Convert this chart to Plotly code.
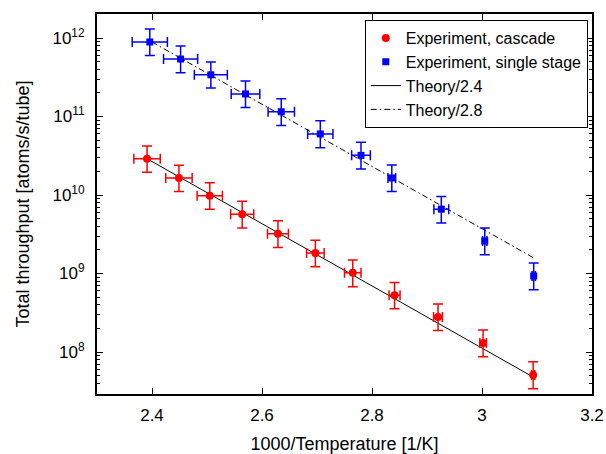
import plotly.graph_objects as go

# Experiment, cascade
cas_x = [2.391, 2.449, 2.505, 2.564, 2.629, 2.697, 2.765, 2.841, 2.920, 3.002, 3.093]
cas_y = [2.9e10, 1.65e10, 9.8e9, 5.7e9, 3.2e9, 1.82e9, 1.02e9, 5.3e8, 2.8e8, 1.3e8, 5.1e7]
cas_xerr = [0.024, 0.024, 0.023, 0.021, 0.019, 0.016, 0.015, 0.010, 0.008, 0.006, 0.003]
cas_yerr_plus = [1.3e10, 7.5e9, 4.5e9, 2.6e9, 1.5e9, 8.3e8, 4.7e8, 2.4e8, 1.3e8, 6.0e7, 2.4e7]
cas_yerr_minus = [9.5e9, 5.4e9, 3.2e9, 1.9e9, 1.05e9, 6.0e8, 3.4e8, 1.75e8, 9.2e7, 4.3e7, 1.7e7]

# Experiment, single stage
ss_x = [2.396, 2.452, 2.507, 2.570, 2.635, 2.706, 2.780, 2.836, 2.926, 3.005, 3.094]
ss_y = [8.9e11, 5.4e11, 3.4e11, 1.94e11, 1.15e11, 6.0e10, 3.2e10, 1.65e10, 6.6e9, 2.6e9, 9.3e8]
ss_xerr = [0.032, 0.031, 0.030, 0.026, 0.024, 0.023, 0.017, 0.007, 0.0135, 0.004, 0.003]
ss_yerr_plus = [4.1e11, 2.5e11, 1.55e11, 8.9e10, 5.3e10, 2.8e10, 1.5e10, 7.6e9, 3.0e9, 1.2e9, 4.3e8]
ss_yerr_minus = [2.9e11, 1.8e11, 1.1e11, 6.4e10, 3.8e10, 2.0e10, 1.05e10, 5.4e9, 2.2e9, 8.6e8, 3.1e8]

# Theory curves (end points of straight lines on log scale)
th24_x = [2.391, 3.093]
th24_y = [2.9e10, 4.8e7]
th28_x = [2.400, 3.094]
th28_y = [8.9e11, 1.58e9]

ytick_vals = [1e8, 1e9, 1e10, 1e11, 1e12]
ytick_text = ["10<sup>8</sup>", "10<sup>9</sup>", "10<sup>10</sup>", "10<sup>11</sup>", "10<sup>12</sup>"]
xtick_vals = [2.4, 2.6, 2.8, 3.0, 3.2]
xtick_text = ["2.4", "2.6", "2.8", "3", "3.2"]

RED = "#ff0000"
BLUE = "#0000ff"
DASHDOT = "6px,3px,1.5px,3px"
FAMILY = "Liberation Sans, Arial, sans-serif"

fig = go.Figure()
fig.add_trace(go.Scatter(
    x=th24_x, y=th24_y, mode="lines", name="Theory/2.4",
    line=dict(color="black", width=1), showlegend=False))
fig.add_trace(go.Scatter(
    x=th28_x, y=th28_y, mode="lines", name="Theory/2.8",
    line=dict(color="black", width=1, dash=DASHDOT), showlegend=False))
fig.add_trace(go.Scatter(
    x=cas_x, y=cas_y, mode="markers", name="Experiment, cascade",
    marker=dict(symbol="circle", size=8, color=RED),
    error_x=dict(type="data", array=cas_xerr, color=RED, thickness=1.5, width=5),
    error_y=dict(type="data", array=cas_yerr_plus, arrayminus=cas_yerr_minus,
                 symmetric=False, color=RED, thickness=1.5, width=5)))
fig.add_trace(go.Scatter(
    x=ss_x, y=ss_y, mode="markers", name="Experiment, single stage",
    marker=dict(symbol="square", size=7, color=BLUE),
    error_x=dict(type="data", array=ss_xerr, color=BLUE, thickness=1.5, width=5),
    error_y=dict(type="data", array=ss_yerr_plus, arrayminus=ss_yerr_minus,
                 symmetric=False, color=BLUE, thickness=1.5, width=5)))
# legend entries for theory lines (listed after experiments)
fig.add_trace(go.Scatter(
    x=[None], y=[None], mode="lines", name="Theory/2.4",
    line=dict(color="black", width=1)))
fig.add_trace(go.Scatter(
    x=[None], y=[None], mode="lines", name="Theory/2.8",
    line=dict(color="black", width=1, dash=DASHDOT)))

fig.update_layout(
    width=606, height=454,
    margin=dict(l=97, r=14, t=14, b=60),
    paper_bgcolor="white", plot_bgcolor="white",
    font=dict(family=FAMILY, size=15, color="black"),
    legend=dict(x=0.541, y=0.984, xanchor="left", yanchor="top",
                bordercolor="black", borderwidth=1, bgcolor="white",
                font=dict(family=FAMILY, size=16), tracegroupgap=0, itemwidth=30),
    xaxis=dict(
        range=[2.3, 3.2], tickvals=xtick_vals, ticktext=xtick_text,
        ticks="inside", ticklen=6, tickwidth=1, tickcolor="black",
        showline=True, linecolor="black", linewidth=2, mirror="allticks",
        showgrid=False, zeroline=False, ticklabelstandoff=5, automargin=False,
        title=dict(text="1000/Temperature [1/K]", standoff=19,
                   font=dict(family=FAMILY, size=18)),
        tickfont=dict(family=FAMILY, size=17)),
    yaxis=dict(
        type="log", range=[7.465, 12.306],
        tickvals=ytick_vals, ticktext=ytick_text,
        ticks="inside", ticklen=6, tickwidth=1, tickcolor="black",
        minor=dict(ticks="inside", ticklen=3, tickcolor="black", dtick="D1", showgrid=False),
        showline=True, linecolor="black", linewidth=2, mirror="allticks",
        showgrid=False, zeroline=False, ticklabelstandoff=7, automargin=False,
        title=dict(text="Total throughput [atoms/s/tube]", standoff=18,
                   font=dict(family=FAMILY, size=18)),
        tickfont=dict(family=FAMILY, size=17)),
)

fig.write_html(
    "out.html",
    config={"displayModeBar": False},
    post_script="document.body.style.margin='0';document.body.style.overflow='hidden';",
)
